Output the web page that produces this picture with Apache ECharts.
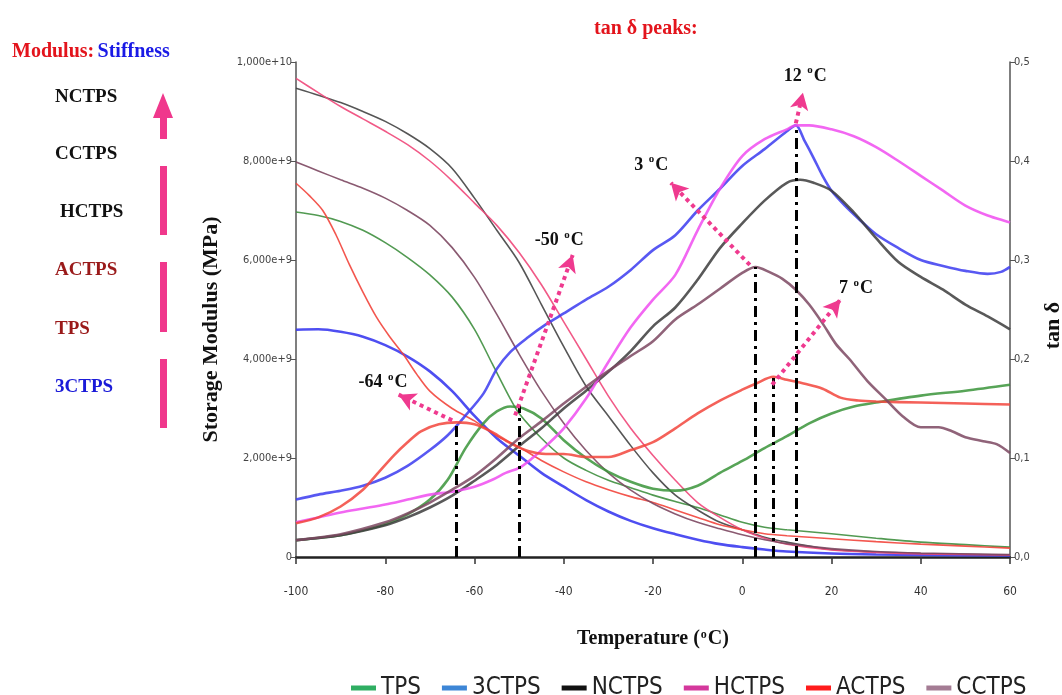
<!DOCTYPE html>
<html>
<head>
<meta charset="utf-8">
<script src="https://cdn.jsdelivr.net/npm/echarts@6/dist/echarts.min.js"></script>
<style>html,body{margin:0;padding:0;background:#fff}#c{width:1062px;height:695px}</style>
</head>
<body>
<div id="c"></div>
<script>
// ---------- DATA ----------
const names = ['TPS', '3CTPS', 'NCTPS', 'HCTPS', 'ACTPS', 'CCTPS'];
const xTicks = [-100, -80, -60, -40, -20, 0, 20, 40, 60];

// Storage modulus (units of 1e9 Pa as on the axis)
const tpsModT = [-100,-95,-90,-85,-80,-75,-70,-65,-60,-56,-52,-50,-45,-40,-35,-30,-25,-20,-15,-10,-5,0,5,10,20,30,40,50,60];
const tpsMod  = [6.97,6.9,6.78,6.6,6.35,6.05,5.7,5.25,4.6,3.9,3.2,2.9,2.4,2.0,1.75,1.55,1.4,1.25,1.12,1.0,0.85,0.7,0.6,0.55,0.47,0.38,0.3,0.25,0.2];
const c3ModT = [-100,-95,-90,-85,-80,-75,-70,-65,-60,-55,-50,-45,-40,-35,-30,-25,-20,-15,-10,-5,0,5,10,20,30,40,60];
const c3Mod  = [4.59,4.6,4.55,4.45,4.28,4.05,3.75,3.35,2.85,2.4,2.05,1.7,1.42,1.15,0.92,0.73,0.58,0.46,0.35,0.26,0.2,0.15,0.11,0.07,0.05,0.04,0.03];
const ncModT = [-100,-95,-90,-85,-80,-75,-70,-65,-60,-55,-50,-45,-40,-35,-30,-25,-20,-15,-10,-5,0,5,10,20,30,40,60];
const ncMod  = [9.47,9.33,9.18,9.0,8.8,8.55,8.25,7.85,7.25,6.6,5.95,5.1,4.25,3.45,2.85,2.25,1.7,1.25,0.95,0.7,0.55,0.4,0.3,0.15,0.1,0.07,0.04];
const hcModT = [-100,-95,-90,-85,-80,-75,-70,-65,-60,-55,-50,-45,-40,-35,-30,-25,-20,-15,-10,-5,0,5,10,20,30,40,60];
const hcMod  = [9.67,9.38,9.1,8.85,8.6,8.33,8.0,7.6,7.15,6.7,6.15,5.5,4.75,4.0,3.25,2.6,2.05,1.55,1.1,0.8,0.55,0.38,0.26,0.14,0.09,0.06,0.04];
const acModT = [-100,-97,-94,-91,-88,-85,-82,-79,-76,-73,-70,-65,-60,-55,-50,-45,-40,-35,-30,-25,-20,-15,-10,-5,0,5,10,20,30,40,50,60];
const acMod  = [7.55,7.3,7.0,6.5,5.9,5.35,4.85,4.45,4.1,3.7,3.35,3.0,2.75,2.45,2.22,1.95,1.72,1.52,1.36,1.22,1.1,0.95,0.8,0.65,0.55,0.47,0.43,0.37,0.31,0.26,0.22,0.18];
const ccModT = [-100,-95,-90,-85,-80,-75,-70,-65,-60,-55,-50,-45,-40,-35,-30,-25,-20,-15,-10,-5,0,5,10,20,30,40,60];
const ccMod  = [7.98,7.8,7.62,7.45,7.25,7.0,6.7,6.25,5.65,4.9,4.1,3.35,2.7,2.15,1.7,1.35,1.08,0.87,0.7,0.57,0.45,0.35,0.27,0.17,0.11,0.08,0.05];

// tan delta
const tpsTanT = [-100,-90,-85,-80,-75,-70,-66,-62,-58,-55,-52,-49,-45,-40,-35,-30,-25,-20,-15,-10,-5,0,5,10,15,20,25,30,40,50,60];
const tpsTan  = [0.017,0.022,0.027,0.033,0.043,0.058,0.078,0.11,0.135,0.147,0.152,0.15,0.14,0.118,0.1,0.086,0.076,0.069,0.067,0.072,0.085,0.097,0.11,0.122,0.135,0.145,0.152,0.156,0.163,0.168,0.174];
const c3TanT = [-100,-95,-90,-85,-80,-75,-70,-66,-62,-58,-55,-52,-48,-44,-40,-35,-30,-25,-20,-15,-10,-5,0,5,10,12,14,16,18,20,23,26,30,35,40,45,50,55,58,60];
const c3Tan  = [0.058,0.063,0.067,0.072,0.08,0.092,0.108,0.123,0.143,0.165,0.19,0.207,0.222,0.235,0.246,0.26,0.273,0.29,0.31,0.325,0.35,0.372,0.395,0.412,0.43,0.436,0.42,0.403,0.385,0.37,0.355,0.342,0.326,0.312,0.3,0.294,0.289,0.286,0.288,0.293];
const ncTanT = [-100,-90,-80,-75,-70,-65,-60,-55,-50,-45,-40,-35,-30,-25,-20,-15,-10,-5,0,5,10,13,16,20,25,30,35,40,45,50,55,60];
const ncTan  = [0.017,0.022,0.032,0.04,0.05,0.062,0.077,0.093,0.112,0.13,0.15,0.168,0.187,0.208,0.233,0.252,0.28,0.312,0.337,0.36,0.378,0.381,0.378,0.37,0.348,0.322,0.298,0.283,0.27,0.255,0.243,0.23];
const hcTanT = [-100,-95,-90,-85,-80,-75,-70,-65,-60,-56,-53,-50,-47,-44,-40,-35,-30,-25,-20,-15,-10,-5,0,5,10,12,15,20,25,30,35,40,45,50,55,60];
const hcTan  = [0.035,0.04,0.045,0.049,0.053,0.058,0.063,0.066,0.071,0.078,0.085,0.09,0.1,0.112,0.13,0.16,0.197,0.232,0.26,0.285,0.33,0.372,0.405,0.422,0.432,0.436,0.436,0.432,0.425,0.414,0.4,0.385,0.37,0.355,0.345,0.338];
const acTanT = [-100,-95,-90,-85,-82,-78,-75,-72,-68,-64,-60,-56,-52,-48,-44,-40,-35,-30,-25,-20,-15,-10,-5,0,3,7,10,14,18,22,26,30,40,50,60];
const acTan  = [0.034,0.04,0.051,0.068,0.083,0.103,0.116,0.127,0.134,0.136,0.134,0.126,0.115,0.107,0.104,0.104,0.101,0.101,0.108,0.116,0.13,0.145,0.158,0.169,0.175,0.182,0.179,0.175,0.17,0.161,0.158,0.157,0.156,0.155,0.154];
const ccTanT = [-100,-90,-80,-75,-70,-65,-60,-55,-50,-45,-40,-35,-30,-25,-20,-15,-10,-5,0,3,6,9,12,15,18,21,24,28,32,36,40,44,47,50,54,57,60];
const ccTan  = [0.017,0.023,0.035,0.044,0.055,0.068,0.082,0.1,0.12,0.137,0.155,0.172,0.188,0.203,0.218,0.24,0.255,0.271,0.287,0.293,0.288,0.281,0.27,0.255,0.236,0.215,0.2,0.178,0.16,0.142,0.131,0.131,0.127,0.121,0.117,0.114,0.105];

// tan delta peak annotations
const peakTemps  = [-64, -50, 3, 7, 12];
const peakTan    = [0.133, 0.153, 0.293, 0.184, 0.436];
const arrowFromT = [-65, -50.9, 1.7, 6.7, 12];
const arrowFromV = [0.138, 0.143, 0.295, 0.174, 0.438];
const arrowTipT  = [-77, -38, -16, 22, 13.6];
const arrowTipV  = [0.164, 0.305, 0.378, 0.26, 0.469];
const labelT     = [-80.5, -41, -20.4, 25.5, 14.1];
const labelV     = [0.176, 0.32, 0.396, 0.271, 0.486];

const leftLabels = ['NCTPS', 'CCTPS', 'HCTPS', 'ACTPS', 'TPS', '3CTPS'];

// ---------- STYLE ----------
const plotColor = {TPS:'#3a943a', '3CTPS':'#3b3bf0', NCTPS:'#3c3c3c', HCTPS:'#f04cf0', ACTPS:'#f2453c', CCTPS:'#7d4862'};
const modColor  = {TPS:'#3f8f3f', '3CTPS':'#3b3bf0', NCTPS:'#444444', HCTPS:'#f0487a', ACTPS:'#f2453c', CCTPS:'#7d4862'};
const legendColor = {TPS:'#2fae62', '3CTPS':'#3d86d6', NCTPS:'#111111', HCTPS:'#d4389c', ACTPS:'#ff1c1c', CCTPS:'#a47c94'};

const zip = (a, b) => a.map((t, i) => [t, b[i]]);
const modData = {TPS: zip(tpsModT, tpsMod), '3CTPS': zip(c3ModT, c3Mod), NCTPS: zip(ncModT, ncMod), HCTPS: zip(hcModT, hcMod), ACTPS: zip(acModT, acMod), CCTPS: zip(ccModT, ccMod)};
const tanData = {TPS: zip(tpsTanT, tpsTan), '3CTPS': zip(c3TanT, c3Tan), NCTPS: zip(ncTanT, ncTan), HCTPS: zip(hcTanT, hcTan), ACTPS: zip(acTanT, acTan), CCTPS: zip(ccTanT, ccTan)};

const series = [];
names.forEach(n => {
  series.push({name: n, type: 'line', yAxisIndex: 0, data: modData[n], showSymbol: false, smooth: 0.3,
    lineStyle: {width: n === '3CTPS' ? 2.6 : 1.6, color: modColor[n], opacity: 0.9}, itemStyle: {color: modColor[n]}, z: 2});
});
names.forEach(n => {
  series.push({name: n, type: 'line', yAxisIndex: 1, data: tanData[n], showSymbol: false, smooth: 0.3,
    lineStyle: {width: 2.6, color: plotColor[n], opacity: 0.85}, itemStyle: {color: plotColor[n]}, z: 3});
});

const serif = 'Liberation Serif, Times New Roman, serif';
const narrow = 'Liberation Sans Narrow, DejaVu Sans Condensed, Liberation Sans, sans-serif';
const rich = {
  b: {fontFamily: serif, fontWeight: 'bold', fontSize: 18, color: '#111', lineHeight: 22},
  s: {fontFamily: serif, fontWeight: 'bold', fontSize: 11, color: '#111', verticalAlign: 'top', lineHeight: 22, padding: [0, 1, 8, 1]}
};

const vLines = peakTemps.map((t, i) => [
  {coord: [t, 0], symbol: 'none', lineStyle: {color: '#000', width: 3, type: [11, 5, 3, 5]}},
  {coord: [t, peakTan[i]], symbol: 'none'}
]);
const arrows = peakTemps.map((t, i) => [
  {coord: [arrowFromT[i], arrowFromV[i]], symbol: 'none', lineStyle: {color: '#ef3a8f', width: 4, type: [4, 4]}},
  {coord: [arrowTipT[i], arrowTipV[i]], symbol: 'arrow', symbolSize: [14, 17]}
]);
series.push({
  name: 'annot', type: 'line', yAxisIndex: 1, data: [], silent: true, z: 5,
  markLine: {silent: true, animation: false, symbol: 'none', label: {show: false}, data: vLines.concat(arrows)},
  markPoint: {silent: true, animation: false, symbol: 'circle', symbolSize: 1, itemStyle: {color: 'rgba(0,0,0,0)'},
    data: peakTemps.map((t, i) => ({coord: [labelT[i], labelV[i]], value: t,
      label: {show: true, position: 'inside', formatter: '{b|' + t + ' }{s|o}{b|C}', rich: rich}}))}
});

const chart = echarts.init(document.getElementById('c'), null, {renderer: 'canvas'});
const graphics = [
  {type: 'text', left: 12, top: 42, style: {text: '{r|Modulus:} {bl|Stiffness}', rich: {
    r: {fontFamily: serif, fontWeight: 'bold', fontSize: 20, fill: '#e3141c'},
    bl: {fontFamily: serif, fontWeight: 'bold', fontSize: 20, fill: '#1a1ae6'}}}},
  {type: 'polygon', shape: {points: [[153, 118], [163, 93], [173, 118]]}, style: {fill: '#f0388c'}},
  {type: 'rect', shape: {x: 160, y: 117, width: 7, height: 22}, style: {fill: '#f0388c'}},
  {type: 'rect', shape: {x: 160, y: 166, width: 7, height: 69}, style: {fill: '#f0388c'}},
  {type: 'rect', shape: {x: 160, y: 262, width: 7, height: 70}, style: {fill: '#f0388c'}},
  {type: 'rect', shape: {x: 160, y: 359, width: 7, height: 69}, style: {fill: '#f0388c'}}
];
const leftColors = ['#111', '#111', '#111', '#9a1a1a', '#9a1a1a', '#1a1ad8'];
const leftX = [55, 55, 60, 55, 55, 55];
const leftY = [100, 157, 215, 273, 332, 390];
leftLabels.forEach((t, i) => graphics.push({type: 'text', left: leftX[i], top: leftY[i] - 12,
  style: {text: t, fontFamily: serif, fontWeight: 'bold', fontSize: 19, fill: leftColors[i]}}));

chart.setOption({
  animation: false,
  backgroundColor: '#fff',
  title: {text: 'tan δ peaks:', left: 589, top: 14, textStyle: {fontFamily: serif, fontWeight: 'bold', fontSize: 20, color: '#e3141c'}},
  grid: {left: 296, right: 52, top: 62, bottom: 138, containLabel: false, outerBoundsMode: 'none'},
  legend: {
    show: true, left: 346, top: 671, width: 716, itemGap: 21, itemWidth: 25, itemHeight: 5, icon: 'rect',
    textStyle: {fontFamily: narrow, fontSize: 24, color: '#222'},
    data: names.map(n => ({name: n, itemStyle: {color: legendColor[n]}}))
  },
  xAxis: {
    type: 'value', min: -100, max: 60, interval: 20,
    name: 'Temperature ({s|o}C)', nameLocation: 'middle', nameGap: 72,
    nameTextStyle: {fontFamily: serif, fontWeight: 'bold', fontSize: 20, color: '#111',
      rich: {s: {fontFamily: serif, fontWeight: 'bold', fontSize: 12, color: '#111', verticalAlign: 'top', padding: [0, 1, 8, 1]}}},
    axisLine: {onZero: false, lineStyle: {color: '#222', width: 2.5}},
    axisTick: {show: true, length: 7, lineStyle: {color: '#333', width: 1.5}},
    axisLabel: {margin: 29, fontFamily: narrow, fontSize: 12, color: '#333', formatter: v => xTicks.includes(v) ? String(v) : ''},
    splitLine: {show: false}
  },
  yAxis: [
    {
      type: 'value', min: 0, max: 10, interval: 2,
      name: 'Storage Modulus (MPa)', nameLocation: 'middle', nameGap: 74,
      nameTextStyle: {fontFamily: serif, fontWeight: 'bold', fontSize: 22, color: '#111', padding: [0, 40, 0, 0]},
      axisLine: {show: true, onZero: false, lineStyle: {color: '#555', width: 1.5}},
      axisTick: {show: true, length: 5, lineStyle: {color: '#555'}},
      axisLabel: {margin: 4, fontFamily: narrow, fontSize: 11, color: '#444',
        formatter: v => v === 0 ? '0' : (v === 10 ? '1,000e+10' : v.toFixed(3).replace('.', ',') + 'e+9')},
      splitLine: {show: false}
    },
    {
      type: 'value', min: 0, max: 0.5, interval: 0.1, position: 'right',
      name: 'tan δ', nameLocation: 'middle', nameGap: 32,
      nameTextStyle: {fontFamily: serif, fontWeight: 'bold', fontSize: 22, color: '#111', padding: [0, 32, 0, 0]},
      axisLine: {show: true, onZero: false, lineStyle: {color: '#555', width: 1.5}},
      axisTick: {show: true, length: 5, lineStyle: {color: '#555'}},
      axisLabel: {margin: 4, fontFamily: narrow, fontSize: 11, color: '#444',
        formatter: v => v.toFixed(1).replace('.', ',')},
      splitLine: {show: false}
    }
  ],
  graphic: graphics,
  series: series
});
</script>
</body>
</html>
